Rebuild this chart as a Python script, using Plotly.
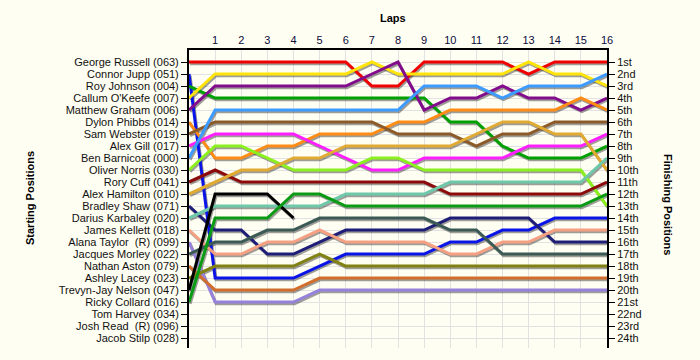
import plotly.graph_objects as go

laps = list(range(0, 17))

drivers = [
    "George Russell (063)", "Connor Jupp (051)", "Roy Johnson (004)", "Callum O'Keefe (007)",
    "Matthew Graham (006)", "Dylon Phibbs (014)", "Sam Webster (019)", "Alex Gill (017)",
    "Ben Barnicoat (000)", "Oliver Norris (030)", "Rory Cuff (041)", "Alex Hamilton (010)",
    "Bradley Shaw (071)", "Darius Karbaley (020)", "James Kellett (018)", "Alana Taylor  (R) (099)",
    "Jacques Morley (022)", "Nathan Aston (079)", "Ashley Lacey (023)", "Trevyn-Jay Nelson (047)",
    "Ricky Collard (016)", "Tom Harvey (034)", "Josh Read  (R) (096)", "Jacob Stilp (028)",
]

finish_labels = ["1st", "2nd", "3rd", "4th", "5th", "6th", "7th", "8th", "9th", "10th",
                 "11th", "12th", "13th", "14th", "15th", "16th", "17th", "18th", "19th", "20th",
                 "21st", "22nd", "23rd", "24th"]

positions = {
    "George Russell (063)":    [1, 1, 1, 1, 1, 1, 1, 3, 3, 1, 1, 1, 1, 2, 1, 1, 1],
    "Connor Jupp (051)":       [2, 19, 19, 19, 19, 18, 17, 17, 17, 17, 16, 16, 15, 15, 14, 14, 14],
    "Roy Johnson (004)":       [3, 4, 4, 4, 4, 4, 4, 4, 4, 4, 6, 6, 8, 9, 9, 9, 8],
    "Callum O'Keefe (007)":    [4, 2, 2, 2, 2, 2, 2, 1, 2, 2, 2, 2, 2, 1, 2, 2, 3],
    "Matthew Graham (006)":    [5, 3, 3, 3, 3, 3, 3, 2, 1, 5, 4, 4, 3, 4, 4, 5, 4],
    "Dylon Phibbs (014)":      [6, 9, 9, 8, 8, 7, 7, 7, 6, 6, 5, 5, 5, 5, 5, 4, 5],
    "Sam Webster (019)":       [7, 6, 6, 6, 6, 6, 6, 6, 7, 7, 7, 8, 7, 7, 6, 6, 6],
    "Alex Gill (017)":         [8, 7, 7, 7, 7, 8, 9, 10, 10, 9, 9, 9, 9, 8, 8, 8, 7],
    "Ben Barnicoat (000)":     [9, 5, 5, 5, 5, 5, 5, 5, 5, 3, 3, 3, 4, 3, 3, 3, 2],
    "Oliver Norris (030)":     [10, 8, 8, 9, 10, 10, 10, 9, 9, 10, 10, 10, 10, 10, 10, 10, 13],
    "Rory Cuff (041)":         [11, 10, 11, 11, 11, 11, 11, 11, 11, 11, 12, 12, 12, 12, 12, 12, 11],
    "Alex Hamilton (010)":     [12, 11, 10, 10, 9, 9, 8, 8, 8, 8, 8, 7, 6, 6, 7, 7, 10],
    "Bradley Shaw (071)":      [13, 15, 15, 17, 17, 16, 15, 15, 15, 15, 14, 14, 14, 14, 16, 16, 16],
    "Darius Karbaley (020)":   [14, 13, 13, 13, 13, 13, 12, 12, 12, 12, 11, 11, 11, 11, 11, 11, 9],
    "James Kellett (018)":     [15, 17, 17, 16, 16, 15, 16, 16, 16, 16, 17, 17, 16, 16, 15, 15, 15],
    "Alana Taylor  (R) (099)": [16, 21, 21, 21, 21, 20, 20, 20, 20, 20, 20, 20, 20, 20, 20, 20, 20],
    "Jacques Morley (022)":    [17, 16, 16, 15, 15, 14, 14, 14, 14, 14, 15, 15, 17, 17, 17, 17, 17],
    "Nathan Aston (079)":      [18, 20, 20, 20, 20, 19, 19, 19, 19, 19, 19, 19, 19, 19, 19, 19, 19],
    "Ashley Lacey (023)":      [19, 18, 18, 18, 18, 17, 18, 18, 18, 18, 18, 18, 18, 18, 18, 18, 18],
    "Trevyn-Jay Nelson (047)": [20, 12, 12, 12, 14, None, None, None, None, None, None, None, None, None, None, None, None],
    "Ricky Collard (016)":     [21, 14, 14, 14, 12, 12, 13, 13, 13, 13, 13, 13, 13, 13, 13, 13, 12],
}

colors = {
    "George Russell (063)": "#F00000",
    "Connor Jupp (051)": "#0A14E6",
    "Roy Johnson (004)": "#00A000",
    "Callum O'Keefe (007)": "#FFE40A",
    "Matthew Graham (006)": "#820C8C",
    "Dylon Phibbs (014)": "#FF8C14",
    "Sam Webster (019)": "#8B5A28",
    "Alex Gill (017)": "#FF1EFF",
    "Ben Barnicoat (000)": "#3C9BFF",
    "Oliver Norris (030)": "#8CF01E",
    "Rory Cuff (041)": "#8C0A0A",
    "Alex Hamilton (010)": "#E1AA32",
    "Bradley Shaw (071)": "#1E1E78",
    "Darius Karbaley (020)": "#6EC8AA",
    "James Kellett (018)": "#F5A082",
    "Alana Taylor  (R) (099)": "#9682DC",
    "Jacques Morley (022)": "#3C5A55",
    "Nathan Aston (079)": "#D26E2D",
    "Ashley Lacey (023)": "#828214",
    "Trevyn-Jay Nelson (047)": "#000000",
    "Ricky Collard (016)": "#0A9B14",
}

BG = "#FFFEF2"
FONT = "Liberation Sans, Arial, sans-serif"

fig = go.Figure()

# shadows
for name, pos in positions.items():
    fig.add_trace(go.Scatter(
        x=[l + 0.04 for l in laps],
        y=[p + 0.14 if p is not None else None for p in pos],
        mode="lines", line=dict(color="rgba(40,40,40,0.45)", width=3),
        hoverinfo="skip", showlegend=False))

for name, pos in positions.items():
    fig.add_trace(go.Scatter(
        x=laps, y=pos, mode="lines", name=name,
        line=dict(color=colors[name], width=3),
        showlegend=False))

# dummy trace to activate the right-hand axis
fig.add_trace(go.Scatter(x=[None], y=[None], yaxis="y2", showlegend=False, hoverinfo="skip"))

yticks = list(range(1, 25))
yrange = [24.83, 0]

fig.update_layout(
    width=700, height=360,
    margin=dict(l=189, r=93, t=50, b=12),
    paper_bgcolor=BG, plot_bgcolor=BG,
    font=dict(family=FONT, size=11, color="#111111"),
    xaxis=dict(
        range=[0, 16], side="top", tickvals=list(range(1, 17)),
        ticktext=[str(v) for v in range(1, 17)],
        tickfont=dict(color="#0A0A3C", size=11),
        showline=True, linecolor="black", linewidth=2,
        showgrid=True, gridcolor="#E2E2E2", gridwidth=1,
        zeroline=False, ticks="", fixedrange=True,
    ),
    yaxis=dict(
        range=yrange, tickvals=yticks, ticktext=drivers,
        ticks="outside", ticklen=6, tickcolor="black", tickwidth=1,
        showline=True, linecolor="black", linewidth=2,
        showgrid=True, gridcolor="#E2E2E2", gridwidth=1,
        zeroline=False, tickfont=dict(size=11, color="#111111"),
    ),
    yaxis2=dict(
        range=yrange, overlaying="y", side="right",
        tickvals=yticks, ticktext=finish_labels,
        ticks="outside", ticklen=6, tickcolor="black", tickwidth=1,
        showline=True, linecolor="black", linewidth=2,
        showgrid=False, zeroline=False, tickfont=dict(size=11, color="#111111"),
    ),
    annotations=[
        dict(text="<b>Laps</b>", x=393, y=18, xref="paper", yref="paper", showarrow=False,
             font=dict(size=11, color="black")),
    ],
)

# place titles in pixel-ish positions via paper fractions
W, H = 700, 360
pl, pr, pt, pb = 189, 93, 50, 12
pw, ph = W - pl - pr, H - pt - pb

def px_x(x):
    return (x - pl) / pw

def px_y(y):
    return 1 - (y - pt) / ph

fig.layout.annotations = []
fig.add_annotation(text="<b>Laps</b>", x=px_x(393), y=px_y(18), xref="paper", yref="paper",
                   showarrow=False, font=dict(size=11, color="black"), xanchor="center", yanchor="middle")
fig.add_annotation(text="<b>Starting Positions</b>", x=px_x(30), y=px_y(198), xref="paper", yref="paper",
                   showarrow=False, textangle=-90, font=dict(size=11, color="black"),
                   xanchor="center", yanchor="middle")
fig.add_annotation(text="<b>Finishing Positions</b>", x=px_x(668), y=px_y(204), xref="paper", yref="paper",
                   showarrow=False, textangle=90, font=dict(size=11, color="black"),
                   xanchor="center", yanchor="middle")

fig.write_html("out.html")
